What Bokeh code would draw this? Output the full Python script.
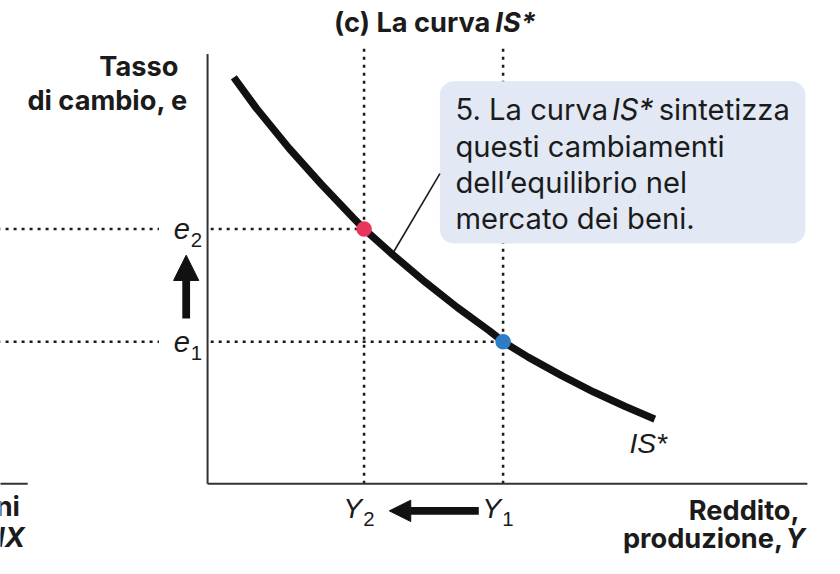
from bokeh.plotting import figure
from bokeh.models import Range1d, Arrow, NormalHead
from bokeh.core.properties import value
from bokeh.embed import file_html
from bokeh.resources import INLINE

# ---- data (abstract units) ----
curve_Y = [0.675, 1.25, 2.1, 2.925, 3.75, 4.025, 4.75, 5.6, 6.425, 7.25, 7.6, 8.25, 9.1, 9.925, 10.75, 11.5]
curve_e = [10.45, 9.66, 8.62, 7.70, 6.83, 6.55, 5.90, 5.18, 4.53, 3.93, 3.65, 3.25, 2.78, 2.36, 1.98, 1.66]
Y_levels = [4.025, 7.6]        # Y2, Y1
e_levels = [6.55, 3.65]        # e2, e1
point_colors = ["#e8355e", "#2d7cc4"]
y_sub = ["2", "1"]
e_sub = ["2", "1"]
x_axis_end = 15.425
y_axis_end = 11.05
callout_lines = ["questi cambiamenti", "dell\u2019equilibrio nel", "mercato dei beni."]

INK = "#1b1b1b"
BOLD_FONT = "Inter"
VAR_FONT = "Liberation Sans"

W, H = 824, 558
S = H / 574.0          # overall scale
UNIT = 40.0 * S        # pixels per data unit


def fs(px):
    return f"{px * S:.1f}px"


x0 = -213.0 / 40.0
y1 = 497.0 / 40.0
p = figure(width=W, height=H, output_backend="svg", toolbar_location=None,
           x_range=Range1d(x0, x0 + W / UNIT), y_range=Range1d(y1 - H / UNIT, y1),
           min_border=0, min_border_left=0, min_border_right=0,
           min_border_top=0, min_border_bottom=0)
p.axis.visible = False
p.grid.visible = False
p.outline_line_color = None
p.background_fill_color = "white"

DOT = dict(line_color=INK, line_width=2.6 * S, line_dash="3 5")
# dotted guide lines (left fragment of panel b)
p.segment(x0=[-5.4] * 2, x1=[-1.25] * 2, y0=e_levels, y1=e_levels, **DOT)
# horizontal dotted lines inside panel
p.segment(x0=[0.08] * 2, x1=Y_levels, y0=e_levels, y1=e_levels, **DOT)
# vertical dotted lines
p.segment(x0=Y_levels, x1=Y_levels, y0=[0] * 2, y1=[11.2] * 2, **DOT)

# axes
p.segment(x0=[0, 0], y0=[0, 0], x1=[0, x_axis_end], y1=[y_axis_end, 0],
          line_color="#333333", line_width=2)
# left fragment of other panel's axis
p.segment(x0=[-5.4], y0=[0], x1=[-4.625], y1=[0], line_color="#333333", line_width=2)

# callout box
p.quad(left=[5.975], right=[15.375], top=[10.35], bottom=[6.175],
       fill_color="#e2e9f4", line_color=None, border_radius=14)
# leader line
p.segment(x0=[4.75], y0=[5.9], x1=[5.975], y1=[7.975], line_color=INK, line_width=1.6)

# IS* curve
p.line(curve_Y, curve_e, line_color="#111111", line_width=7.5 * S)
# equilibrium points
p.scatter(Y_levels, e_levels, size=16 * S, fill_color=point_colors, line_color=None)

# arrows
p.add_layout(Arrow(end=NormalHead(size=26 * S, fill_color="#111111", line_color="#111111"),
                   x_start=-0.55, y_start=e_levels[1] + 0.6,
                   x_end=-0.55, y_end=e_levels[0] - 0.675,
                   line_width=8 * S, line_color="#111111"))
p.add_layout(Arrow(end=NormalHead(size=22 * S, fill_color="#111111", line_color="#111111"),
                   x_start=Y_levels[1] - 0.625, y_start=-0.7,
                   x_end=Y_levels[0] + 0.65, y_end=-0.7,
                   line_width=8 * S, line_color="#111111"))

# e labels
p.text(x=[-0.45] * 2, y=e_levels, text=["e", "e"], text_align="right", text_baseline="middle",
       text_font=value(VAR_FONT), text_font_style="italic", text_font_size=fs(30), text_color=INK)
p.text(x=[-0.43] * 2, y=[v - 0.28 for v in e_levels], text=e_sub, text_align="left",
       text_baseline="middle", text_font=value(VAR_FONT), text_font_size=fs(21), text_color=INK)
# Y labels
p.text(x=[v - 0.05 for v in Y_levels], y=[-0.62] * 2, text=["Y", "Y"], text_align="right",
       text_baseline="middle", text_font=value(VAR_FONT), text_font_style="italic",
       text_font_size=fs(29), text_color=INK)
p.text(x=[v - 0.02 for v in Y_levels], y=[-0.9] * 2, text=y_sub, text_align="left",
       text_baseline="middle", text_font=value(VAR_FONT), text_font_size=fs(21), text_color=INK)
# IS* label
p.text(x=[curve_Y[-1] - 0.65], y=[curve_e[-1] - 0.62], text=["IS*"], text_align="left",
       text_baseline="middle", text_font=value(VAR_FONT), text_font_style="italic",
       text_font_size=fs(29), text_color=INK)

BOLD = dict(text_font=value(BOLD_FONT), text_font_style="bold", text_font_size=fs(28),
            text_color=INK, text_baseline="middle")
BOLD_IT = dict(BOLD, text_font_style="bold italic")
# axis titles
p.text(x=[-0.75], y=[10.725], text=["Tasso"], text_align="right", **BOLD)
p.text(x=[-0.5], y=[9.85], text=["di cambio, e"], text_align="right", **BOLD)
p.text(x=[15.225], y=[-0.7], text=["Reddito,"], text_align="right", **BOLD)
p.text(x=[14.8], y=[-1.42], text=["produzione,"], text_align="right", **BOLD)
p.text(x=[15.375], y=[-1.42], text=["Y"], text_align="right", **BOLD_IT)

# left fragment labels
p.text(x=[-4.825], y=[-0.6], text=["ni"], text_align="right", **BOLD)
p.text(x=[-4.7], y=[-1.375], text=["NX"], text_align="right", **BOLD_IT)

# title
p.text(x=[3.25], y=[11.85], text=["(c) La curva"], text_align="left", **BOLD)
p.text(x=[7.4], y=[11.85], text=["IS*"], text_align="left", **BOLD_IT)

# callout text
REG = dict(text_font=value(BOLD_FONT), text_font_size=fs(30), text_color=INK,
           text_baseline="middle", text_align="left")
p.text(x=[6.375], y=[9.625], text=["5. La curva"], **REG)
p.text(x=[10.4], y=[9.625], text=["IS*"], text_font_style="italic", **REG)
p.text(x=[11.6], y=[9.625], text=["sintetizza"], **REG)
p.text(x=[6.375] * 3, y=[8.675, 7.75, 6.825], text=callout_lines, **REG)

open("out.html", "w").write(file_html(p, INLINE))
